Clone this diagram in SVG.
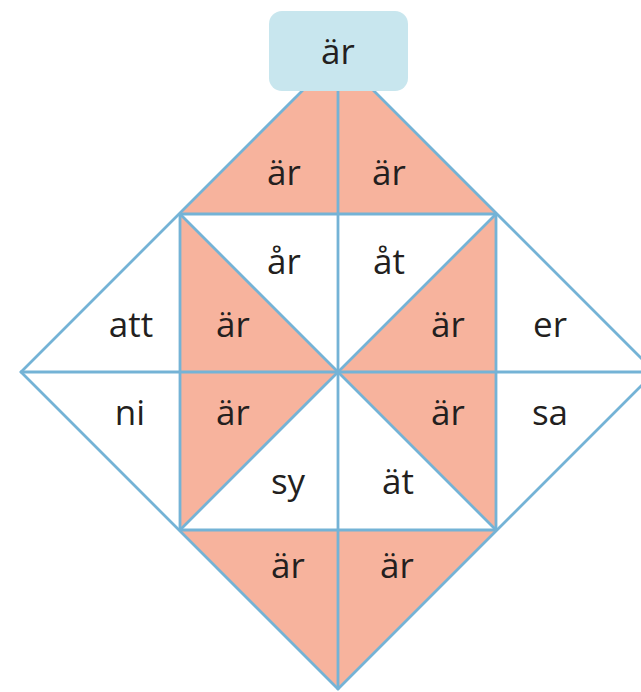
<svg xmlns="http://www.w3.org/2000/svg" width="641" height="692" viewBox="0 0 641 692">
<style>
.s{fill:#f7b39d}
.t{font-family:"Open Sans","Noto Sans","DejaVu Sans",sans-serif;font-size:35px;fill:#231f20;text-anchor:middle}
.ln{stroke:#74b3d6;stroke-width:2.8;fill:none;stroke-linecap:round;stroke-linejoin:round}
</style>
<rect width="641" height="692" fill="#ffffff"/>
<g id="top-left"><polygon class="s" points="338,55 180,213 338,214"/><text class="t" x="284" y="185">är</text></g>
<g id="top-right"><polygon class="s" points="338,55 496,213 338,214"/><text class="t" x="389" y="185">är</text></g>
<g id="sq-ar-upper-left"><polygon class="s" points="180,214 180,372 338,372"/><text class="t" x="233" y="337">är</text></g>
<g id="sq-ar-lower-left"><polygon class="s" points="180,372 338,372 180,530"/><text class="t" x="233" y="425">är</text></g>
<g id="sq-ar-upper-right"><polygon class="s" points="338,372 496,214 496,372"/><text class="t" x="448" y="337">är</text></g>
<g id="sq-ar-lower-right"><polygon class="s" points="338,372 496,372 496,530"/><text class="t" x="448" y="425">är</text></g>
<g id="bottom-left"><polygon class="s" points="180,530 338,530 338,689"/><text class="t" x="288" y="578">är</text></g>
<g id="bottom-right"><polygon class="s" points="338,530 496,530 338,689"/><text class="t" x="397" y="578">är</text></g>
<g id="ar"><text class="t" x="284" y="274">år</text></g>
<g id="at"><text class="t" x="389" y="274">åt</text></g>
<g id="att"><text class="t" x="131" y="337">att</text></g>
<g id="ni"><text class="t" x="130" y="425">ni</text></g>
<g id="er"><text class="t" x="550" y="337">er</text></g>
<g id="sa"><text class="t" x="550" y="425">sa</text></g>
<g id="sy"><text class="t" x="288" y="494">sy</text></g>
<g id="aet"><text class="t" x="398" y="494">ät</text></g>
<g id="connectors">
<polygon class="ln" points="338,55 655,372 338,689 21,372"/>
<rect class="ln" x="180" y="214" width="316" height="316"/>
<line class="ln" x1="21" y1="372" x2="655" y2="372"/>
<line class="ln" x1="338" y1="55" x2="338" y2="689"/>
<line class="ln" x1="180" y1="214" x2="496" y2="530"/>
<line class="ln" x1="496" y1="214" x2="180" y2="530"/>
</g>
<g id="header"><rect x="269" y="11" width="139" height="80" rx="13" fill="#c8e6ee"/><text class="t" x="338" y="64">är</text></g>
</svg>
